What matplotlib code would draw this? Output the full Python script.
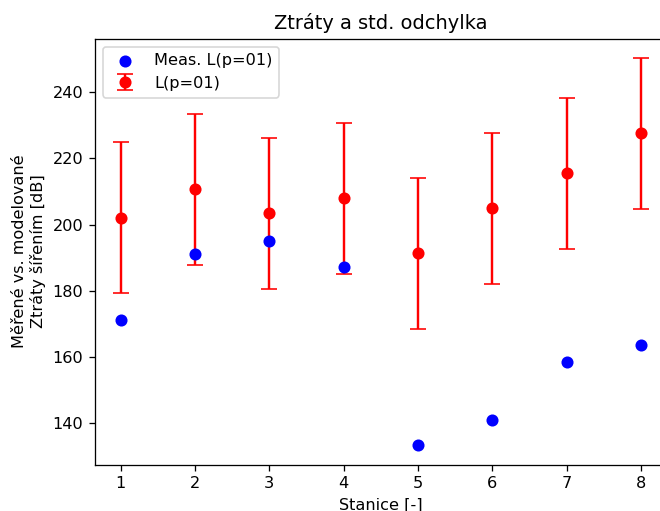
import matplotlib
matplotlib.use("Agg")
import matplotlib.pyplot as plt

stations = [1, 2, 3, 4, 5, 6, 7, 8]
measured = [171.0, 191.1, 195.0, 187.0, 133.2, 140.8, 158.4, 163.6]
modeled = [202.1, 210.6, 203.4, 207.9, 191.3, 204.9, 215.5, 227.6]
std_dev = [22.8, 22.8, 22.8, 22.8, 22.8, 22.8, 22.8, 22.8]

W, H = 660, 511
DPI = 116
fig = plt.figure(figsize=(W / DPI, H / DPI), dpi=DPI)
ax = fig.add_axes([94.5 / W, (H - 464.7) / H, 572.5 / W, 426.2 / H])

ax.scatter(stations, measured, color="blue", s=42, label="Meas. L(p=01)", zorder=3)
ax.errorbar(stations, modeled, yerr=std_dev, fmt="o", color="red", ecolor="red",
            capsize=5, markersize=6.5, elinewidth=1.5, label="L(p=01)")

ax.set_xlim(0.65, 8.35)
ax.set_ylim(127.3, 256.3)
ax.set_xticks(stations)
ax.set_yticks([140, 160, 180, 200, 220, 240])
ax.set_title("Ztráty a std. odchylka")
ax.set_xlabel("Stanice [-]")
ax.set_ylabel("Měřené vs. modelované\nZtráty šířením [dB]")
ax.legend(loc="upper left")

fig.savefig("out.png", dpi=DPI)
